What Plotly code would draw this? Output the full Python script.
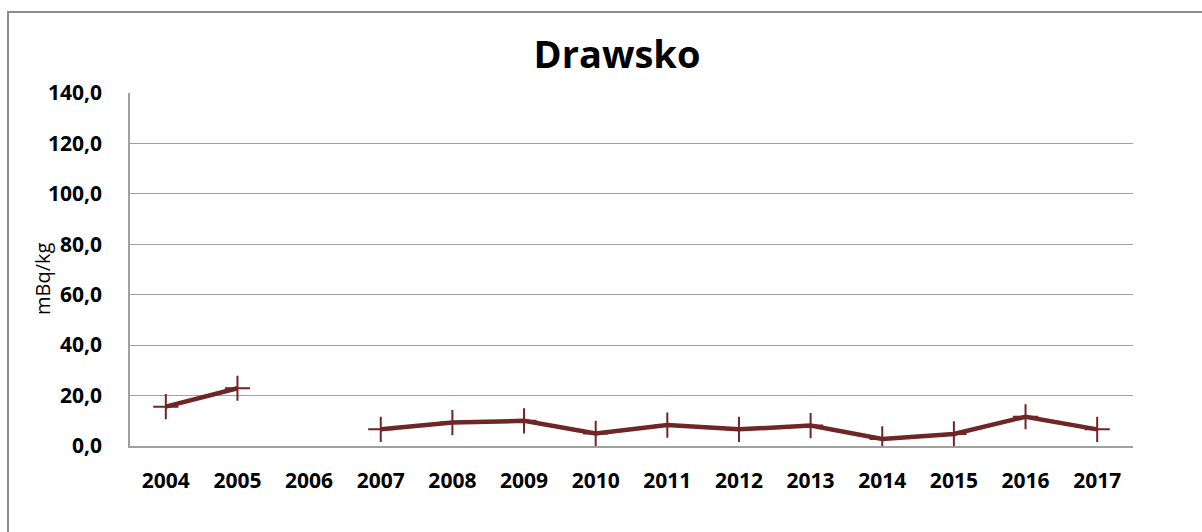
import plotly.graph_objects as go

years = ["2004", "2005", "2006", "2007", "2008", "2009", "2010",
         "2011", "2012", "2013", "2014", "2015", "2016", "2017"]
values = [15.6, 22.9, None, 6.6, 9.3, 10.0, 5.0,
          8.3, 6.6, 8.1, 2.8, 4.8, 11.6, 6.6]

line_color = "#6E2626"
font_family = "Open Sans"

# plot area in pixels: x 130..1133, y 93..446
PW, PH = 1003, 353

fig = go.Figure()
fig.add_trace(go.Scatter(
    x=years, y=values, mode="lines+markers",
    connectgaps=False,
    line=dict(color=line_color, width=4.5),
    marker=dict(symbol="cross-thin", size=18,
                line=dict(color=line_color, width=2)),
    showlegend=False,
))

fig.update_layout(
    width=1202, height=532,
    margin=dict(l=130, r=69, t=93, b=86),
    paper_bgcolor="white", plot_bgcolor="white",
    separators=", ",
    title=dict(text="<b>Drawsko</b>", x=617/1202, xanchor="center",
               y=1 - 55/532, yanchor="middle",
               font=dict(family=font_family, size=38, color="black")),
    font=dict(family=font_family, color="black"),
    shapes=[dict(type="rect", xref="paper", yref="paper",
                 x0=(8 - 130)/PW, x1=(1215 - 130)/PW,
                 y0=(446 - 545)/PH, y1=(446 - 12)/PH,
                 line=dict(color="#8C8C8C", width=2),
                 fillcolor="rgba(0,0,0,0)", layer="below")],
    annotations=[dict(text="mBq/kg", textangle=-90, showarrow=False,
                      xref="paper", yref="paper",
                      x=(42 - 130)/PW, y=(446 - 279)/PH,
                      xanchor="center", yanchor="middle",
                      font=dict(family=font_family, size=20, color="black"))],
)

fig.update_xaxes(
    type="category", range=[-0.5, 13.5],
    showgrid=False, showline=True, linecolor="#A0A0A0", linewidth=1.5,
    ticks="", ticklabelstandoff=15,
    tickfont=dict(family=font_family, size=21, color="black", weight="bold"),
)
fig.update_yaxes(
    range=[0, 140], dtick=20, tickformat=".1f",
    showgrid=True, gridcolor="#A0A0A0", gridwidth=1,
    showline=True, linecolor="#A0A0A0", linewidth=1.5,
    zeroline=False, ticks="", ticklabelstandoff=22,
    tickfont=dict(family=font_family, size=21, color="black", weight="bold"),
)

fig.write_html("out.html")
